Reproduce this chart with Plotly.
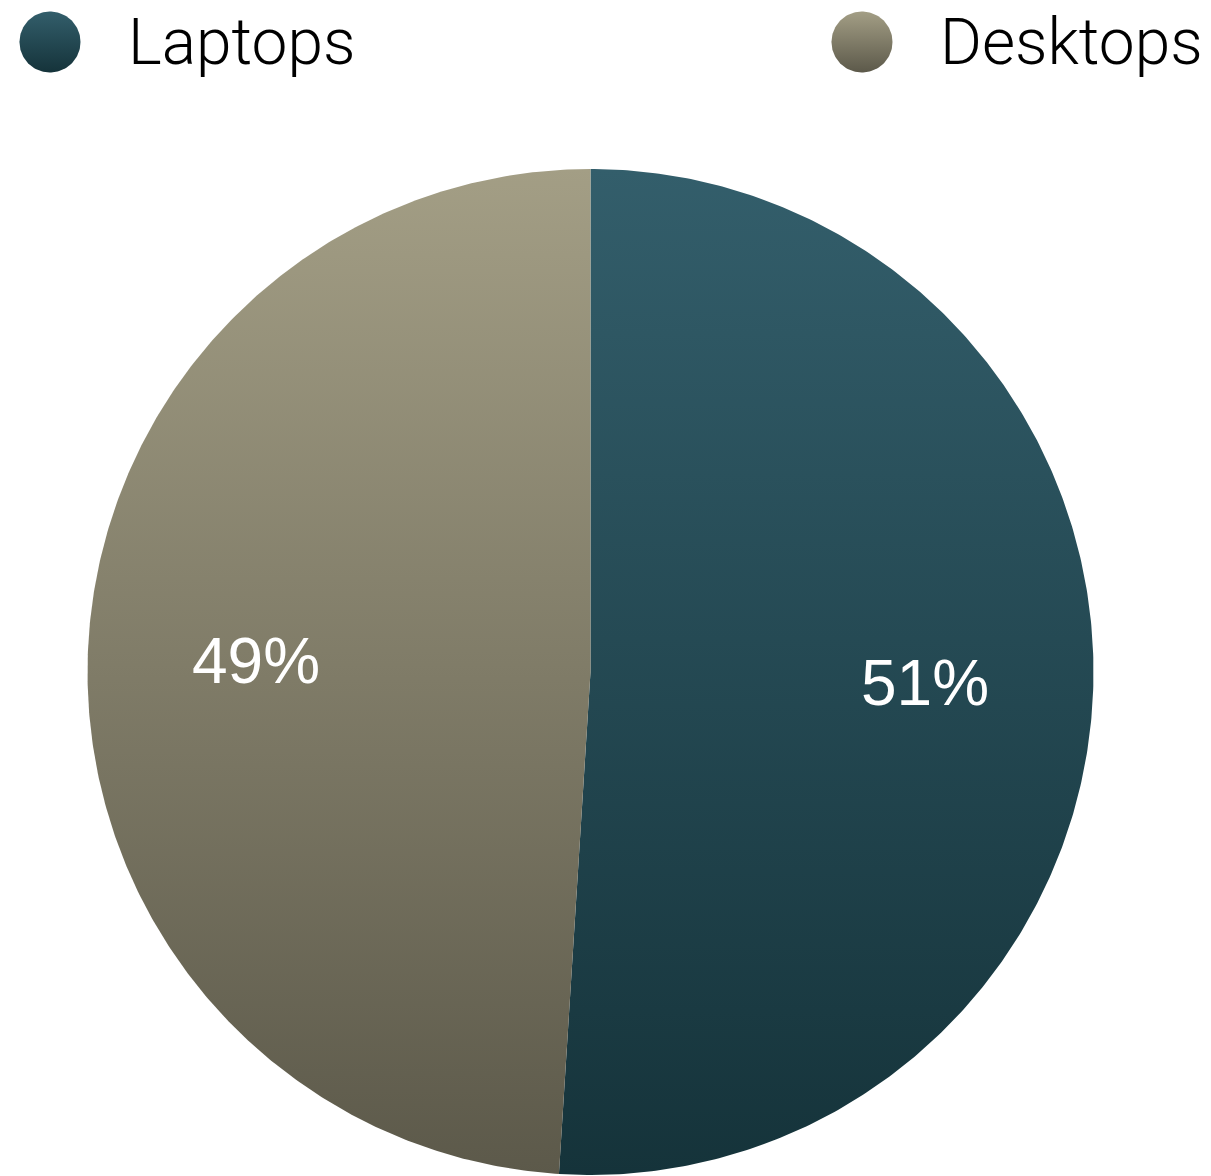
import numpy as np
import plotly.graph_objects as go

# Share of units sold by form factor
categories = ["Laptops", "Desktops"]
shares = [51, 49]
labels = ["51%", "49%"]

# Vertical gradient per slice: (bottom colour, top colour)
gradients = [("#15333a", "#335e6b"), ("#5c594a", "#a39e85")]

W, H = 1211, 1176
cx, cy, R = 590.5, 672.0, 503.0

fig = go.Figure()

# Slices run clockwise starting at 12 o'clock
total = float(sum(shares))
start = 0.0
label_pos = []
for name, val, (c0, c1) in zip(categories, shares, gradients):
    sweep = 360.0 * val / total
    ang = np.radians(np.linspace(start, start + sweep, 400))
    xs = np.concatenate([[cx], cx + R * np.sin(ang), [cx]])
    ys = np.concatenate([[cy], cy - R * np.cos(ang), [cy]])
    fig.add_trace(go.Scatter(
        x=xs, y=ys, mode="lines", fill="toself",
        line=dict(width=0, color=c1),
        fillgradient=dict(type="vertical",
                          colorscale=[[0, c1], [1, c0]],
                          start=cy - R, stop=cy + R),
        hoverinfo="skip", showlegend=False,
    ))
    mid = np.radians(start + sweep / 2)
    label_pos.append((cx + 0.665 * R * np.sin(mid), cy - 0.665 * R * np.cos(mid)))
    start += sweep

for (lx, ly), txt in zip(label_pos, labels):
    fig.add_annotation(x=lx, y=ly, text=txt, showarrow=False,
                       xanchor="center", yanchor="middle",
                       font=dict(family="Liberation Sans", size=64, color="white"))

# Legend: gradient dots with names
legend_items = [(50, 126), (862, 938)]
dot_r = 30.5
ly = 42
for (dx, tx), name, (c0, c1) in zip(legend_items, categories, gradients):
    t = np.linspace(0, 2 * np.pi, 120)
    fig.add_trace(go.Scatter(
        x=dx + dot_r * np.cos(t), y=ly + dot_r * np.sin(t),
        mode="lines", fill="toself", line=dict(width=0, color=c1),
        fillgradient=dict(type="vertical",
                          colorscale=[[0, c1], [1, c0]],
                          start=ly - dot_r, stop=ly + dot_r),
        hoverinfo="skip", showlegend=False,
    ))
    fig.add_annotation(x=tx, y=ly, text=name, showarrow=False,
                       xanchor="left", yanchor="middle",
                       font=dict(family="Roboto", size=64, color="black", weight=300))

fig.update_layout(
    width=W, height=H,
    margin=dict(l=0, r=0, t=0, b=0),
    paper_bgcolor="white", plot_bgcolor="white",
    xaxis=dict(range=[0, W], visible=False, fixedrange=True),
    yaxis=dict(range=[H, 0], visible=False, fixedrange=True),
    showlegend=False,
)

fig.write_html("out.html")
